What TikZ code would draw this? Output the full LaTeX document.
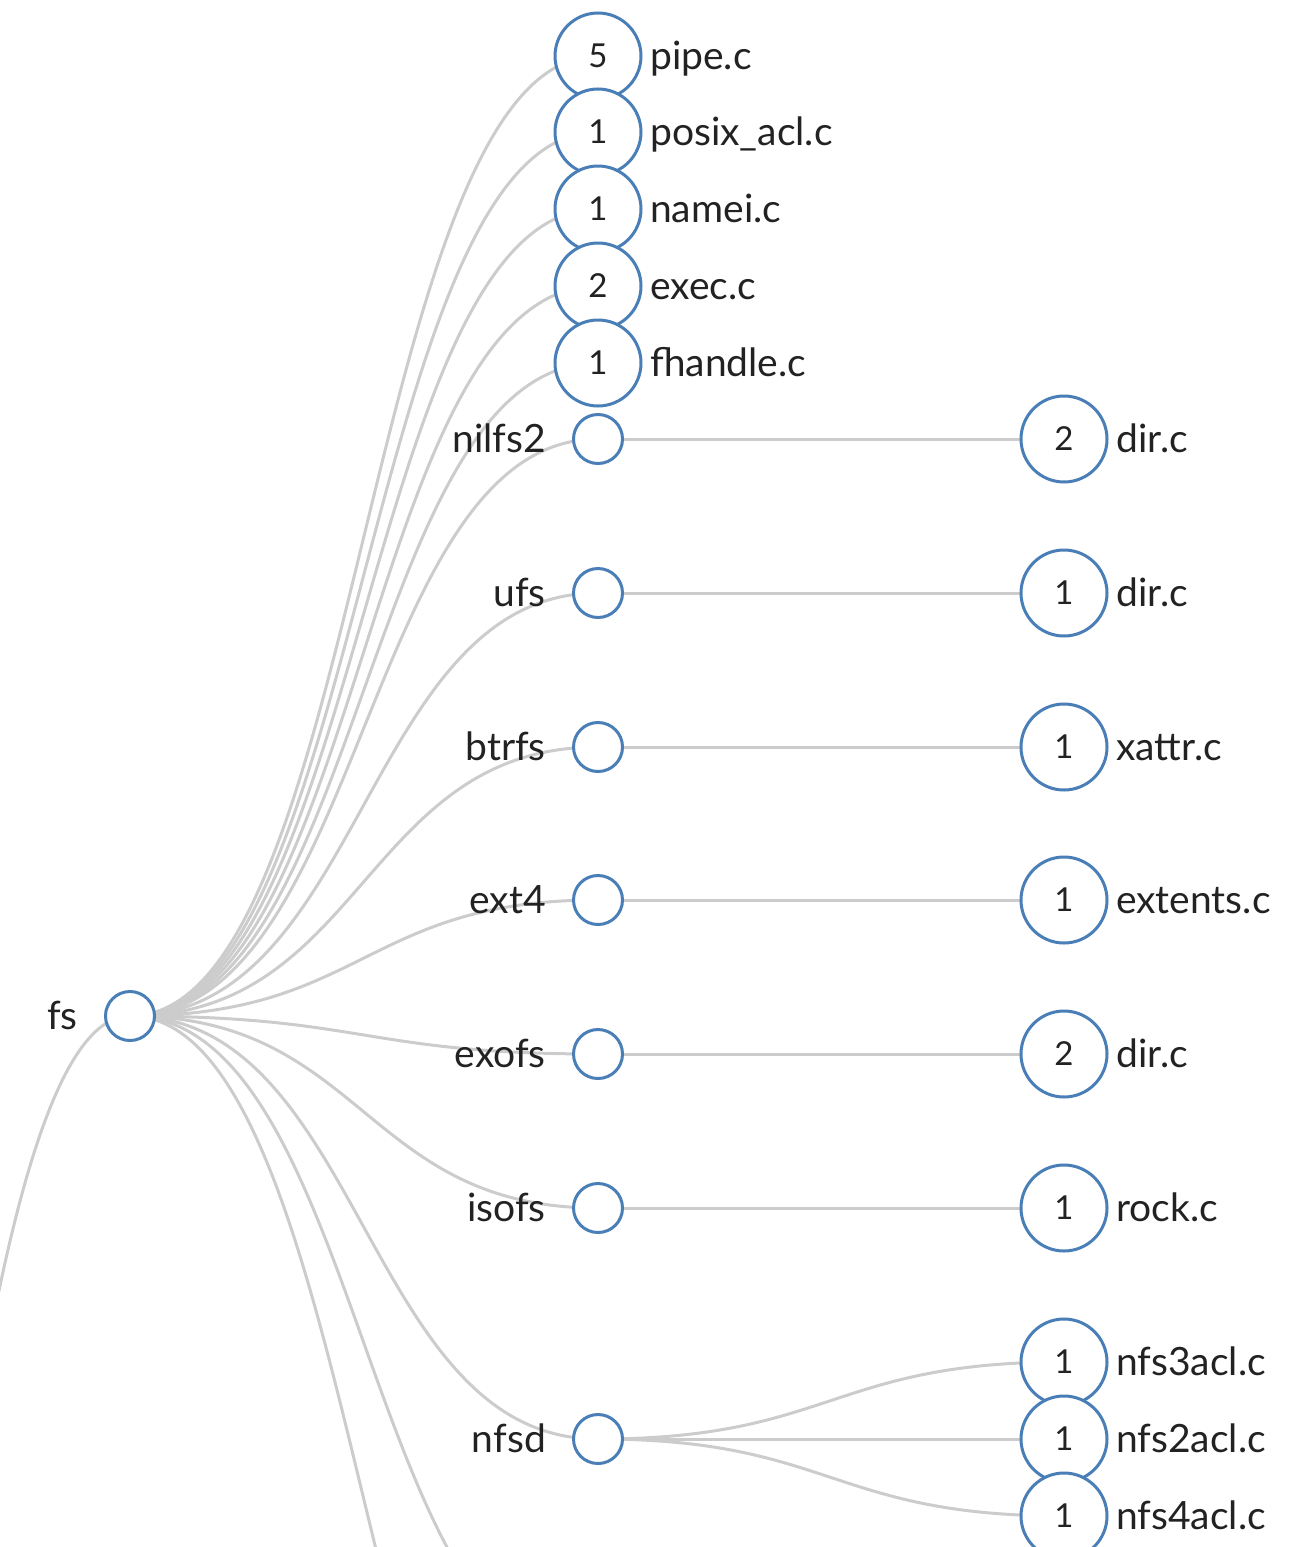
\documentclass[tikz,border=0pt]{standalone}
\usepackage{fontspec}
\setmainfont{Lato}
\usetikzlibrary{calc,backgrounds}
\definecolor{steel}{HTML}{4A7EB6}
\definecolor{linkgray}{HTML}{CCCCCC}
\definecolor{txt}{HTML}{222222}
\tikzset{
  leafnode/.style={circle, draw=steel, line width=3pt, fill=white, minimum size=86pt, inner sep=0pt, font=\fontsize{33}{33}\selectfont, text=txt},
  dirnode/.style={circle, draw=steel, line width=3pt, fill=white, minimum size=49pt, inner sep=0pt},
  lbl/.style={font=\fontsize{39}{39}\selectfont, text=txt, inner sep=0pt},
  link/.style={draw=linkgray, line width=3pt}
}
% name, x, y, count, label
\newcommand\mkleaf[5]{%
  \node[leafnode] (#1) at (#2,#3) {#4};
  \node[lbl, anchor=base west] (#1-l) at ({#2+52},{#3+13.5}) {#5};}
\newcommand\lnk[2]{%
  \draw[link] let \p1=(#1.center), \p2=(#2.center) in
    (\p1) .. controls ({(\x1+\x2)/2},\y1) and ({(\x1+\x2)/2},\y2) .. (\p2);}
\begin{document}
\begin{tikzpicture}[x=1pt, y=-1pt]
\useasboundingbox (0,0) rectangle (1288,1547);
% off-screen endpoints
\coordinate (root) at (-338,3025);
\coordinate (offa) at (598,1671);
\coordinate (offb) at (598,1984);
% fs
\node[dirnode] (fs) at (130,1016) {};
\node[lbl, anchor=base east] (fs-l) at (78,1029.5) {fs};
% level-1 leaves
\mkleaf{pipe}{598}{56}{5}{pipe.c}
\mkleaf{posix}{598}{132}{1}{posix\_acl.c}
\mkleaf{namei}{598}{209}{1}{namei.c}
\mkleaf{exec}{598}{286}{2}{exec.c}
\mkleaf{fhandle}{598}{363}{1}{fhandle.c}
% level-1 directories
\node[dirnode] (nilfs) at (598,439) {};
\node[lbl, anchor=base east] (nilfs-l) at (546,452.5) {nilfs2};
\node[dirnode] (ufs) at (598,593) {};
\node[lbl, anchor=base east] (ufs-l) at (546,606.5) {ufs};
\node[dirnode] (btrfs) at (598,747) {};
\node[lbl, anchor=base east] (btrfs-l) at (546,760.5) {btrfs};
\node[dirnode] (ext) at (598,900) {};
\node[lbl, anchor=base east] (ext-l) at (546,913.5) {ext4};
\node[dirnode] (exofs) at (598,1054) {};
\node[lbl, anchor=base east] (exofs-l) at (546,1067.5) {exofs};
\node[dirnode] (isofs) at (598,1208) {};
\node[lbl, anchor=base east] (isofs-l) at (546,1221.5) {isofs};
\node[dirnode] (nfsd) at (598,1439) {};
\node[lbl, anchor=base east] (nfsd-l) at (546,1452.5) {nfsd};
% level-2 leaves
\mkleaf{nilfsdir}{1064}{439}{2}{dir.c}
\mkleaf{ufsdir}{1064}{593}{1}{dir.c}
\mkleaf{xattr}{1064}{747}{1}{xattr.c}
\mkleaf{extents}{1064}{900}{1}{extents.c}
\mkleaf{exofsdir}{1064}{1054}{2}{dir.c}
\mkleaf{rock}{1064}{1208}{1}{rock.c}
\mkleaf{nfsthree}{1064}{1362}{1}{nfs3acl.c}
\mkleaf{nfstwo}{1064}{1439}{1}{nfs2acl.c}
\mkleaf{nfsfour}{1064}{1516}{1}{nfs4acl.c}
% links
\begin{scope}[on background layer]
\lnk{root}{fs}
\lnk{fs}{pipe}
\lnk{fs}{posix}
\lnk{fs}{namei}
\lnk{fs}{exec}
\lnk{fs}{fhandle}
\lnk{fs}{nilfs}
\lnk{fs}{ufs}
\lnk{fs}{btrfs}
\lnk{fs}{ext}
\lnk{fs}{exofs}
\lnk{fs}{isofs}
\lnk{fs}{nfsd}
\lnk{fs}{offa}
\lnk{fs}{offb}
\lnk{nilfs}{nilfsdir}
\lnk{ufs}{ufsdir}
\lnk{btrfs}{xattr}
\lnk{ext}{extents}
\lnk{exofs}{exofsdir}
\lnk{isofs}{rock}
\lnk{nfsd}{nfsthree}
\lnk{nfsd}{nfstwo}
\lnk{nfsd}{nfsfour}
\end{scope}
\end{tikzpicture}
\end{document}
